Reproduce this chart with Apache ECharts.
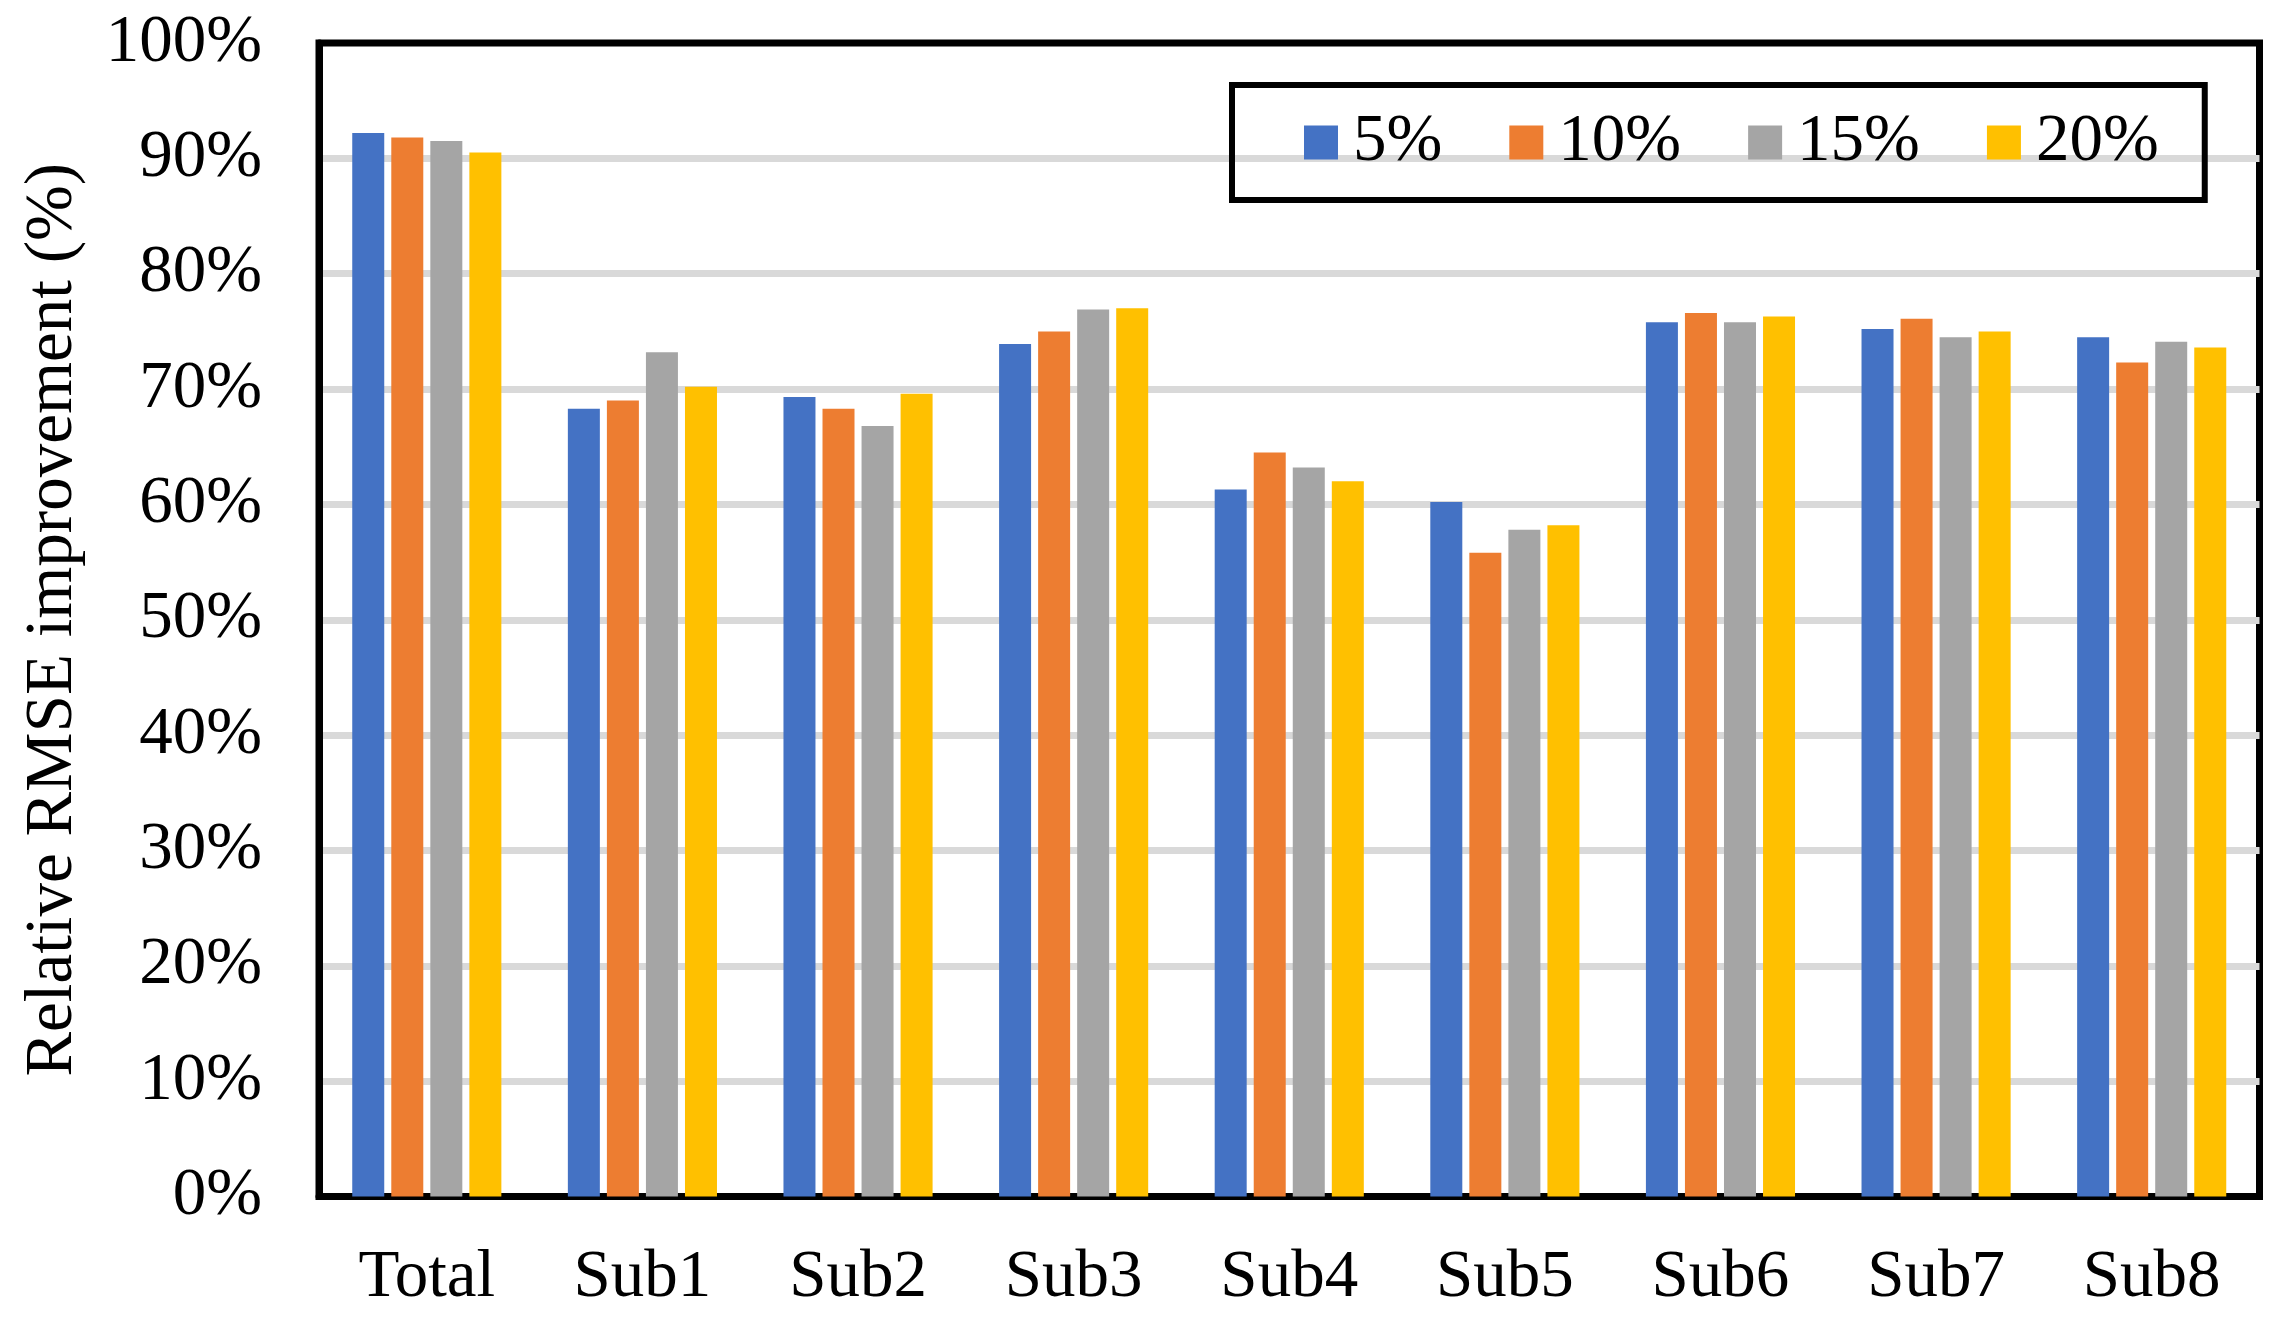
<!DOCTYPE html>
<html>
<head>
<meta charset="utf-8">
<script src="https://cdn.jsdelivr.net/npm/echarts@6/dist/echarts.min.js"></script>
<style>
  html, body { margin: 0; padding: 0; background: #fff; }
  #chart { width: 2279px; height: 1320px; }
</style>
</head>
<body>
<div id="chart"></div>
<script>
const categories = ['Total', 'Sub1', 'Sub2', 'Sub3', 'Sub4', 'Sub5', 'Sub6', 'Sub7', 'Sub8'];
const seriesNames = ['5%', '10%', '15%', '20%'];
const values5  = [92.2, 68.3, 69.3, 73.9, 61.3, 60.2, 75.8, 75.2, 74.5];
const values10 = [91.8, 69.0, 68.3, 75.0, 64.5, 55.8, 76.6, 76.1, 72.3];
const values15 = [91.5, 73.2, 66.8, 76.9, 63.2, 57.8, 75.8, 74.5, 74.1];
const values20 = [90.5, 70.2, 69.6, 77.0, 62.0, 58.2, 76.3, 75.0, 73.6];
const colors = ['#4472C4', '#ED7D31', '#A5A5A5', '#FFC000'];
const yTickMin = 0, yTickMax = 100, yTickStep = 10;

const allValues = [values5, values10, values15, values20];
const font = "'Liberation Serif', 'Times New Roman', serif";
const fs = 67;

const chart = echarts.init(document.getElementById('chart'));
chart.setOption({
  backgroundColor: '#ffffff',
  animation: false,
  textStyle: { fontFamily: font, color: '#000' },
  grid: {
    left: 319, top: 43, right: 19.5, bottom: 123.5,
    show: true, borderColor: '#000', borderWidth: 7, backgroundColor: 'transparent'
  },
  legend: {
    left: 1232, top: 85,
    padding: [24, 46, 24, 72],
    borderColor: '#000', borderWidth: 6,
    itemWidth: 34, itemHeight: 34, itemGap: 67,
    icon: 'rect',
    textStyle: { fontFamily: font, fontSize: fs, color: '#000', padding: [0, 0, 0, 10] },
    data: seriesNames
  },
  xAxis: {
    type: 'category',
    data: categories,
    axisLine: { show: true, lineStyle: { color: '#000', width: 7 } },
    axisTick: { show: false },
    axisLabel: { fontFamily: font, fontSize: fs, color: '#000', margin: 48 },
    splitLine: { show: false }
  },
  yAxis: {
    type: 'value',
    min: yTickMin, max: yTickMax, interval: yTickStep,
    name: 'Relative RMSE improvement (%)',
    nameLocation: 'middle',
    nameGap: 232,
    nameTextStyle: { fontFamily: font, fontSize: fs, color: '#000' },
    axisLine: { show: true, lineStyle: { color: '#000', width: 7 } },
    axisTick: { show: false },
    axisLabel: { fontFamily: font, fontSize: fs, color: '#000', margin: 57, formatter: '{value}%' },
    splitLine: { show: true, showMinLine: false, showMaxLine: false, lineStyle: { color: '#D9D9D9', width: 7 } }
  },
  series: seriesNames.map((name, i) => ({
    name: name,
    type: 'bar',
    data: allValues[i],
    barWidth: 32,
    barGap: '22%',
    itemStyle: { color: colors[i] }
  }))
});
</script>
</body>
</html>
